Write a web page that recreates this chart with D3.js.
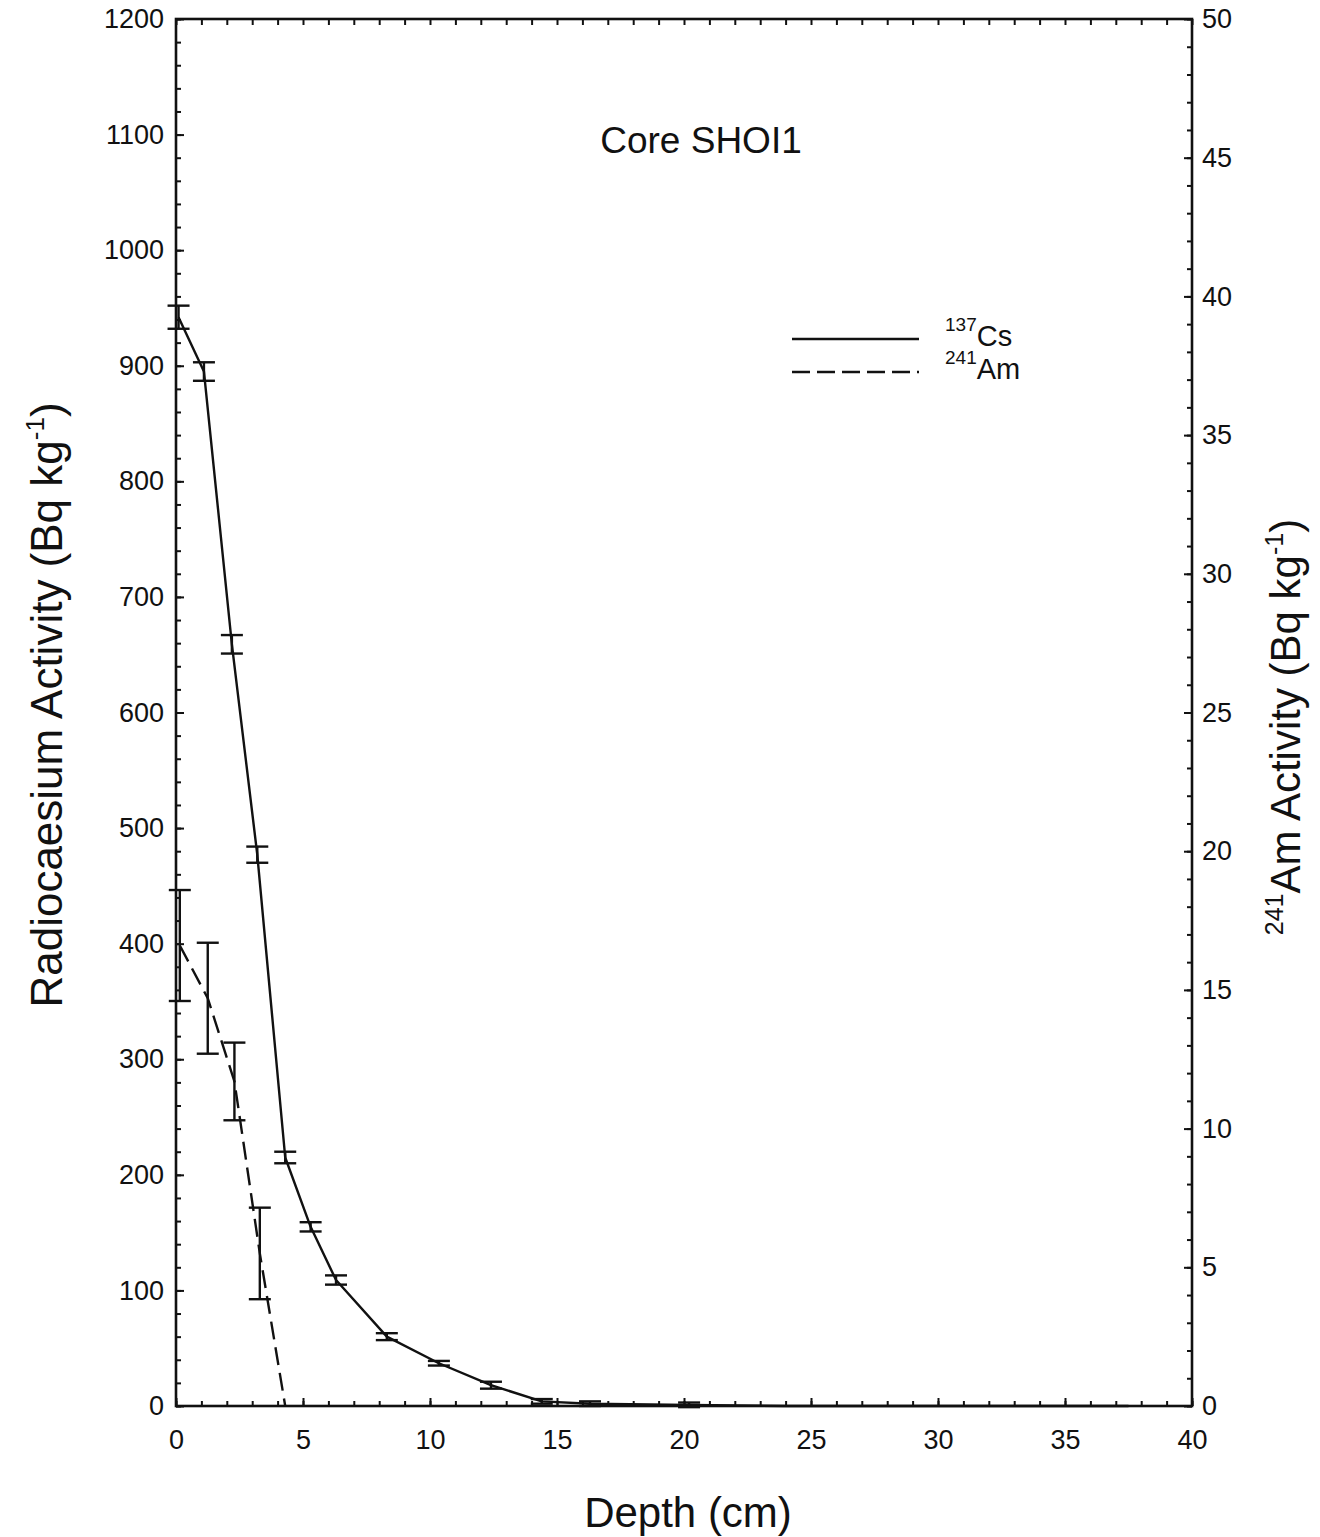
<!DOCTYPE html>
<html>
<head>
<meta charset="utf-8">
<script src="https://cdn.jsdelivr.net/npm/d3@7"></script>
<style>
  html, body { margin: 0; padding: 0; background: #fff; }
  svg { display: block; }
  text { font-family: "Liberation Sans", Arial, sans-serif; fill: #111; }
</style>
</head>
<body>
<svg id="chart" width="1320" height="1537"></svg>
<script>
// Core SHOI1 — depth profiles of 137Cs (left axis) and 241Am (right axis)

// 137Cs activity (Bq kg-1) against depth (cm)
const csDepth = [0.1, 1.1, 2.2, 3.2, 4.3, 5.3, 6.3, 8.3, 10.35, 12.4, 14.4, 16.3, 20.2, 24.0, 37.5];
const csValue = [942, 895, 659, 477, 215, 155, 109, 60, 37, 18, 4, 2, 1, 0, 0];
const csError = [10, 8, 8, 7, 5, 4, 4, 3, 2, 3, 2, 2, 2, 0, 0];

// 241Am activity (Bq kg-1) against depth (cm)
const amDepth = [0.15, 1.25, 2.3, 3.3, 4.3];
const amValue = [16.6, 14.7, 11.7, 5.5, 0];
const amError = [2.0, 2.0, 1.4, 1.65, 0];

// axis ticks
const xTicks = [0, 5, 10, 15, 20, 25, 30, 35, 40];
const yLeftTicks = [0, 100, 200, 300, 400, 500, 600, 700, 800, 900, 1000, 1100, 1200];
const yRightTicks = [0, 5, 10, 15, 20, 25, 30, 35, 40, 45, 50];

const frame = { left: 176, right: 1192, top: 19, bottom: 1406 };

const svg = d3.select("#chart");

const x = d3.scaleLinear().domain([0, 40]).range([frame.left, frame.right]);
const yL = d3.scaleLinear().domain([0, 1200]).range([frame.bottom, frame.top]);
const yR = d3.scaleLinear().domain([0, 50]).range([frame.bottom, frame.top]);

const ink = "#111";

// --- axes with inward ticks -------------------------------------------------
function styleAxis(g) {
  g.select(".domain").remove();
  g.selectAll(".tick line").attr("stroke", ink).attr("stroke-width", 2);
  g.selectAll(".tick text").attr("font-size", 27).attr("fill", ink)
    .attr("font-family", "Liberation Sans, Arial, sans-serif");
}

// bottom: majors every 5 cm, minors every 1 cm
svg.append("g").attr("transform", `translate(0,${frame.bottom})`)
  .call(d3.axisBottom(x).tickValues(d3.range(0, 41, 1)).tickSize(-5).tickFormat(""))
  .call(styleAxis);
svg.append("g").attr("transform", `translate(0,${frame.bottom})`)
  .call(d3.axisBottom(x).tickValues(xTicks).tickSize(-8).tickPadding(24).tickFormat(d3.format("d")))
  .call(styleAxis);

// top: minor ticks every 1 cm
svg.append("g").attr("transform", `translate(0,${frame.top})`)
  .call(d3.axisTop(x).tickValues(d3.range(0, 41, 1)).tickSize(-6).tickFormat(""))
  .call(styleAxis);

// left: majors every 100, minors every 20
svg.append("g").attr("transform", `translate(${frame.left},0)`)
  .call(d3.axisLeft(yL).tickValues(d3.range(0, 1201, 20)).tickSize(-5).tickFormat(""))
  .call(styleAxis);
svg.append("g").attr("transform", `translate(${frame.left},0)`)
  .call(d3.axisLeft(yL).tickValues(yLeftTicks).tickSize(-8).tickPadding(12).tickFormat(d3.format("d")))
  .call(styleAxis);

// right: majors every 5, minors every 1
svg.append("g").attr("transform", `translate(${frame.right},0)`)
  .call(d3.axisRight(yR).tickValues(d3.range(0, 51, 1)).tickSize(-5).tickFormat(""))
  .call(styleAxis);
svg.append("g").attr("transform", `translate(${frame.right},0)`)
  .call(d3.axisRight(yR).tickValues(yRightTicks).tickSize(-8).tickPadding(10).tickFormat(d3.format("d")))
  .call(styleAxis);

// frame
svg.append("rect")
  .attr("x", frame.left).attr("y", frame.top)
  .attr("width", frame.right - frame.left).attr("height", frame.bottom - frame.top)
  .attr("fill", "none").attr("stroke", ink).attr("stroke-width", 2.6);

// --- data -------------------------------------------------------------------
const cs = csDepth.map((d, i) => ({ d, v: csValue[i], e: csError[i] }));
const am = amDepth.map((d, i) => ({ d, v: amValue[i], e: amError[i] }));

const csLine = d3.line().x(p => x(p.d)).y(p => yL(p.v));
const amLine = d3.line().x(p => x(p.d)).y(p => yR(p.v));

svg.append("path").datum(cs)
  .attr("d", csLine).attr("fill", "none")
  .attr("stroke", ink).attr("stroke-width", 2.4).attr("stroke-linejoin", "round");

svg.append("path").datum(am)
  .attr("d", amLine).attr("fill", "none")
  .attr("stroke", ink).attr("stroke-width", 2.4).attr("stroke-dasharray", "18,8");

// error bars with caps
function errorBars(data, yScale, capHalf) {
  const g = svg.append("g").attr("stroke", ink).attr("stroke-width", 2.4);
  const withErr = data.filter(p => p.e > 0);
  g.selectAll("line.stem").data(withErr).join("line")
    .attr("x1", p => x(p.d)).attr("x2", p => x(p.d))
    .attr("y1", p => yScale(p.v - p.e)).attr("y2", p => yScale(p.v + p.e));
  g.selectAll("line.capHi").data(withErr).join("line")
    .attr("x1", p => x(p.d) - capHalf).attr("x2", p => x(p.d) + capHalf)
    .attr("y1", p => yScale(p.v + p.e)).attr("y2", p => yScale(p.v + p.e));
  g.selectAll("line.capLo").data(withErr).join("line")
    .attr("x1", p => x(p.d) - capHalf).attr("x2", p => x(p.d) + capHalf)
    .attr("y1", p => yScale(p.v - p.e)).attr("y2", p => yScale(p.v - p.e));
}
errorBars(cs, yL, 11);
errorBars(am, yR, 11);

// --- text ---------------------------------------------------------------------
svg.append("text")
  .attr("x", 701).attr("y", 153)
  .attr("text-anchor", "middle").attr("font-size", 37)
  .text("Core SHOI1");

svg.append("text")
  .attr("x", 688).attr("y", 1527)
  .attr("text-anchor", "middle").attr("font-size", 42)
  .text("Depth (cm)");

// left axis title
const lt = svg.append("text")
  .attr("transform", "translate(62,705) rotate(-90)")
  .attr("text-anchor", "middle").attr("font-size", 44);
lt.append("tspan").text("Radiocaesium Activity (Bq kg");
lt.append("tspan").attr("font-size", 26).attr("dy", -18).text("-1");
lt.append("tspan").attr("dy", 18).text(")");

// right axis title
const rt = svg.append("text")
  .attr("transform", "translate(1300,727) rotate(-90)")
  .attr("text-anchor", "middle").attr("font-size", 42);
rt.append("tspan").attr("font-size", 25).attr("dy", -17).text("241");
rt.append("tspan").attr("dy", 17).text("Am Activity (Bq kg");
rt.append("tspan").attr("font-size", 25).attr("dy", -17).text("-1");
rt.append("tspan").attr("dy", 17).text(")");

// legend
const legendItems = [
  { iso: "137", el: "Cs", dash: null, y: 339 },
  { iso: "241", el: "Am", dash: "18,7", y: 372 }
];
const lg = svg.append("g");
legendItems.forEach(item => {
  lg.append("line")
    .attr("x1", 792).attr("x2", 919).attr("y1", item.y).attr("y2", item.y)
    .attr("stroke", ink).attr("stroke-width", 2.4)
    .attr("stroke-dasharray", item.dash);
  const t = lg.append("text").attr("x", 945).attr("y", item.y + 7).attr("font-size", 29);
  t.append("tspan").attr("font-size", 19).attr("dy", -15).text(item.iso);
  t.append("tspan").attr("dy", 15).text(item.el);
});
</script>
</body>
</html>
